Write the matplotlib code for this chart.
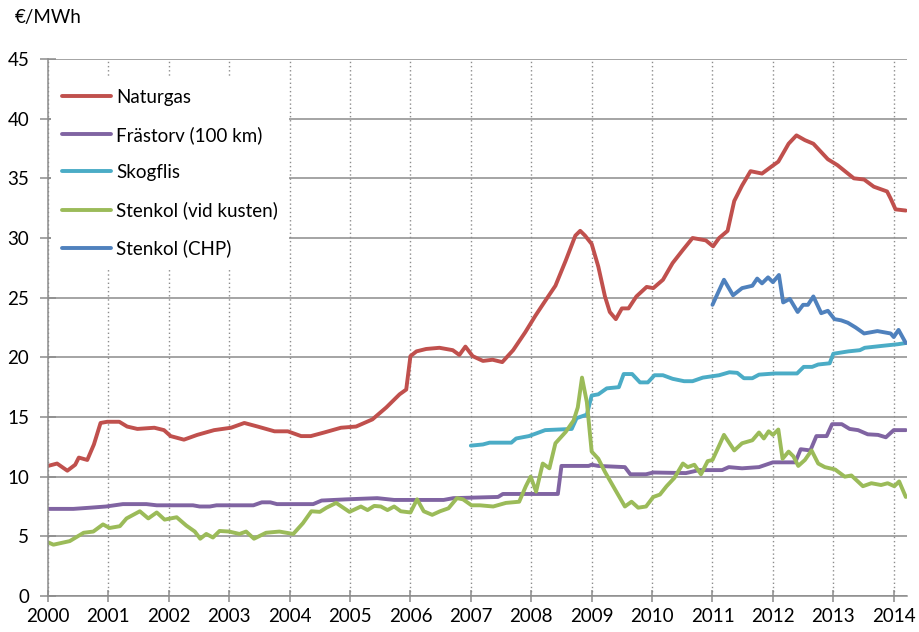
import matplotlib
matplotlib.use("Agg")
import matplotlib.pyplot as plt

plt.rcParams['font.family'] = ['Lato', 'DejaVu Sans']

# ---- data (decimal year, €/MWh) ----
gas_x = [2000.0, 2000.15, 2000.32, 2000.45, 2000.51, 2000.65, 2000.76, 2000.87, 2000.98, 2001.18,
         2001.31, 2001.48, 2001.76, 2001.92, 2002.03, 2002.25, 2002.47, 2002.75, 2003.03, 2003.25,
         2003.47, 2003.75, 2003.97, 2004.19, 2004.35, 2004.57, 2004.85, 2005.1, 2005.37, 2005.6,
         2005.82, 2005.93, 2006.0, 2006.1, 2006.26, 2006.48, 2006.7, 2006.81, 2006.91, 2007.03,
         2007.2, 2007.36, 2007.52, 2007.7, 2007.9, 2008.07, 2008.24, 2008.4, 2008.57, 2008.73,
         2008.81, 2008.89, 2009.0, 2009.11, 2009.22, 2009.3, 2009.4, 2009.5, 2009.61, 2009.74,
         2009.91, 2010.02, 2010.18, 2010.34, 2010.51, 2010.67, 2010.89, 2011.01, 2011.11, 2011.25,
         2011.36, 2011.49, 2011.63, 2011.82, 2011.98, 2012.09, 2012.26, 2012.39, 2012.53, 2012.67,
         2012.91, 2013.07, 2013.34, 2013.51, 2013.67, 2013.89, 2013.95, 2014.03, 2014.2]
gas_y = [10.9, 11.1, 10.5, 11.0, 11.6, 11.4, 12.7, 14.5, 14.6, 14.6,
         14.2, 14.0, 14.1, 13.9, 13.4, 13.1, 13.5, 13.9, 14.1, 14.5,
         14.2, 13.8, 13.8, 13.4, 13.4, 13.7, 14.1, 14.2, 14.8, 15.8,
         16.9, 17.3, 20.1, 20.5, 20.7, 20.8, 20.6, 20.2, 20.9, 20.1,
         19.7, 19.8, 19.6, 20.6, 22.1, 23.5, 24.8, 26.0, 28.1, 30.2,
         30.6, 30.2, 29.5, 27.6, 25.1, 23.8, 23.2, 24.1, 24.1, 25.1,
         25.9, 25.8, 26.5, 27.9, 29.0, 30.0, 29.8, 29.3, 30.0, 30.6,
         33.1, 34.4, 35.6, 35.4, 36.0, 36.4, 37.9, 38.6, 38.2, 37.9,
         36.6, 36.1, 35.0, 34.9, 34.3, 33.9, 33.3, 32.4, 32.3]

peat_x = [2000.0, 2000.42, 2000.7, 2000.96, 2001.24, 2001.63, 2001.8, 2002.4, 2002.51, 2002.68,
          2002.79, 2003.4, 2003.54, 2003.68, 2003.79, 2004.39, 2004.53, 2004.94, 2005.45, 2005.73,
          2006.55, 2006.71, 2007.45, 2007.53, 2008.44, 2008.5, 2008.95, 2009.0, 2009.11, 2009.55,
          2009.64, 2009.9, 2010.02, 2010.56, 2010.78, 2011.16, 2011.27, 2011.49, 2011.77, 2012.0,
          2012.37, 2012.46, 2012.62, 2012.72, 2012.89, 2012.98, 2013.14, 2013.27, 2013.41, 2013.57,
          2013.74, 2013.87, 2014.0, 2014.2]
peat_y = [7.3, 7.3, 7.4, 7.5, 7.7, 7.7, 7.6, 7.6, 7.5, 7.5,
          7.6, 7.6, 7.85, 7.85, 7.7, 7.7, 8.0, 8.1, 8.2, 8.05,
          8.05, 8.2, 8.3, 8.55, 8.55, 10.9, 10.9, 11.0, 10.9, 10.8,
          10.2, 10.2, 10.35, 10.3, 10.55, 10.55, 10.8, 10.7, 10.8, 11.2,
          11.2, 12.3, 12.2, 13.4, 13.4, 14.4, 14.4, 14.0, 13.9, 13.55,
          13.5, 13.3, 13.9, 13.9]

chips_x = [2007.0, 2007.2, 2007.31, 2007.67, 2007.75, 2007.96, 2008.07, 2008.23, 2008.67, 2008.75,
           2008.92, 2009.0, 2009.11, 2009.25, 2009.45, 2009.53, 2009.67, 2009.8, 2009.93, 2010.04,
           2010.18, 2010.34, 2010.53, 2010.67, 2010.84, 2011.11, 2011.28, 2011.41, 2011.52, 2011.66,
           2011.77, 2012.04, 2012.4, 2012.51, 2012.65, 2012.75, 2012.94, 2013.0, 2013.25, 2013.44,
           2013.52, 2013.79, 2014.07, 2014.2]
chips_y = [12.6, 12.7, 12.85, 12.85, 13.2, 13.4, 13.6, 13.9, 14.0, 14.9,
           15.2, 16.8, 16.9, 17.4, 17.5, 18.6, 18.6, 17.9, 17.9, 18.5,
           18.5, 18.2, 18.0, 18.0, 18.3, 18.5, 18.75, 18.7, 18.25, 18.25,
           18.55, 18.65, 18.65, 19.2, 19.2, 19.4, 19.5, 20.3, 20.5, 20.6,
           20.8, 20.95, 21.1, 21.2]

coal_x = [2000.0, 2000.09, 2000.36, 2000.59, 2000.75, 2000.91, 2001.02, 2001.19, 2001.3, 2001.52,
          2001.66, 2001.8, 2001.93, 2002.13, 2002.29, 2002.43, 2002.52, 2002.62, 2002.73, 2002.84,
          2003.0, 2003.17, 2003.28, 2003.41, 2003.61, 2003.83, 2004.06, 2004.22, 2004.36, 2004.5,
          2004.61, 2004.77, 2004.99, 2005.18, 2005.29, 2005.4, 2005.51, 2005.62, 2005.73, 2005.84,
          2006.0, 2006.11, 2006.22, 2006.36, 2006.49, 2006.63, 2006.77, 2006.87, 2007.01, 2007.15,
          2007.37, 2007.58, 2007.8, 2007.91, 2007.99, 2008.08, 2008.19, 2008.3, 2008.4, 2008.57,
          2008.7, 2008.77, 2008.84, 2008.92, 2009.0, 2009.11, 2009.22, 2009.39, 2009.55, 2009.66,
          2009.77, 2009.9, 2010.02, 2010.13, 2010.24, 2010.37, 2010.51, 2010.59, 2010.7, 2010.81,
          2010.92, 2011.0, 2011.11, 2011.19, 2011.36, 2011.49, 2011.66, 2011.77, 2011.85, 2011.93,
          2012.0, 2012.09, 2012.16, 2012.26, 2012.34, 2012.42, 2012.53, 2012.64, 2012.75, 2012.86,
          2013.03, 2013.19, 2013.3, 2013.49, 2013.63, 2013.79, 2013.9, 2014.01, 2014.09, 2014.2]
coal_y = [4.5, 4.3, 4.6, 5.3, 5.4, 6.0, 5.7, 5.85, 6.5, 7.1,
          6.5, 7.0, 6.4, 6.6, 5.9, 5.4, 4.8, 5.2, 4.9, 5.45,
          5.4, 5.2, 5.4, 4.8, 5.3, 5.4, 5.2, 6.1, 7.1, 7.05,
          7.4, 7.8, 7.05, 7.5, 7.2, 7.55, 7.5, 7.2, 7.5, 7.1,
          7.0, 8.1, 7.1, 6.8, 7.1, 7.35, 8.2, 8.1, 7.6, 7.6,
          7.5, 7.8, 7.9, 9.2, 10.0, 8.75, 11.1, 10.7, 12.8, 13.75,
          14.7, 15.8, 18.3, 16.25, 12.1, 11.5, 10.4, 8.9, 7.5, 7.9,
          7.4, 7.5, 8.3, 8.5, 9.2, 9.9, 11.1, 10.8, 11.0, 10.2,
          11.3, 11.4, 12.6, 13.5, 12.2, 12.8, 13.05, 13.7, 13.2, 13.8,
          13.5, 13.95, 11.5, 12.1, 11.7, 10.9, 11.4, 12.2, 11.1, 10.8,
          10.6, 10.0, 10.1, 9.2, 9.45, 9.3, 9.45, 9.2, 9.6, 8.3]

chp_x = [2011.0, 2011.19, 2011.34, 2011.49, 2011.66, 2011.74, 2011.82, 2011.92, 2012.0, 2012.1,
         2012.17, 2012.28, 2012.41, 2012.5, 2012.58, 2012.67, 2012.8, 2012.91, 2013.02, 2013.13,
         2013.24, 2013.37, 2013.51, 2013.62, 2013.73, 2013.84, 2013.95, 2014.0, 2014.08, 2014.2]
chp_y = [24.4, 26.5, 25.2, 25.8, 26.0, 26.6, 26.2, 26.7, 26.3, 26.9,
         24.6, 24.9, 23.8, 24.4, 24.4, 25.1, 23.7, 23.9, 23.2, 23.1,
         22.9, 22.5, 22.0, 22.1, 22.2, 22.1, 22.0, 21.7, 22.3, 21.2]

labels = ["Naturgas", "Frästorv (100 km)", "Skogflis", "Stenkol (vid kusten)", "Stenkol (CHP)"]
colors = ["#C0504D", "#8064A2", "#4BACC6", "#9BBB59", "#4F81BD"]
year_ticks = list(range(2000, 2015))
y_ticks = list(range(0, 46, 5))

fig = plt.figure(figsize=(9.2, 6.32), dpi=100)
ax = fig.add_axes([48/920, 1-596/632, (907-48)/920, (596-59)/632])

series = [(gas_x, gas_y), (peat_x, peat_y), (chips_x, chips_y), (coal_x, coal_y), (chp_x, chp_y)]
for (xs, ys), lab, col in zip(series, labels, colors):
    ax.plot(xs, ys, color=col, lw=2.8, label=lab, solid_capstyle='round', solid_joinstyle='round')

ax.set_xlim(2000, 2014.22)
ax.set_ylim(0, 45)
ax.set_xticks(year_ticks)
ax.set_xticklabels([str(y) for y in year_ticks])
ax.set_yticks(y_ticks)

gc = "#8C8C8C"
ax.yaxis.grid(True, color=gc, lw=1.1, ls='-')
ax.xaxis.grid(True, color=gc, lw=1.0, ls=(0, (1, 2)))
ax.set_axisbelow(True)
for s in ['top', 'right']:
    ax.spines[s].set_visible(False)
for s in ['left', 'bottom']:
    ax.spines[s].set_color(gc)
    ax.spines[s].set_linewidth(1.1)
ax.tick_params(axis='both', direction='inout', color=gc, width=1.1, labelsize=13.5,
               labelcolor='#000000')
ax.tick_params(axis='y', length=11, pad=8)
ax.tick_params(axis='x', length=9, pad=4)

leg = ax.legend(loc='upper left', bbox_to_anchor=(0.003, 0.966), frameon=True,
                fontsize=13.5, handlelength=2.6, handletextpad=0.3, labelspacing=1.08,
                borderpad=0.6, borderaxespad=0.0, fancybox=False)
leg.get_frame().set_facecolor('white')
leg.get_frame().set_edgecolor('none')
leg.get_frame().set_alpha(1.0)

fig.text(15/920, 1-18/632, "€/MWh", fontsize=13.5, ha='left', va='center')

fig.savefig("out.png", dpi=100)
